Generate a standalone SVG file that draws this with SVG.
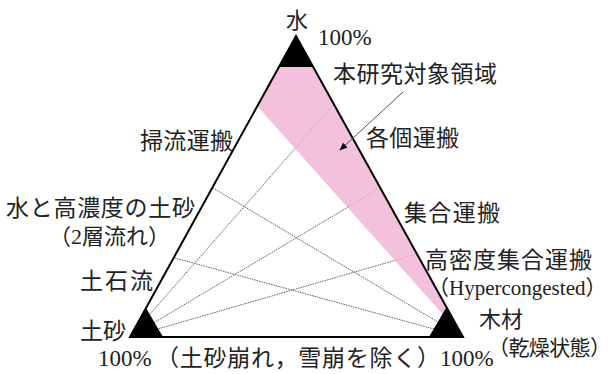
<svg xmlns="http://www.w3.org/2000/svg" width="612" height="374" viewBox="0 0 612 374">
<defs>
<style>
.t{font-family:'Liberation Serif','Noto Sans CJK JP',serif;font-size:23px;fill:#222}
.s{font-size:22px}
.thin{stroke:#666;stroke-width:1;stroke-dasharray:1.6 0.9;fill:none}
.edge{stroke:#000;stroke-width:2;fill:none}
</style>
<marker id="ah" viewBox="0 0 10 10" refX="9" refY="5" markerWidth="8" markerHeight="8" markerUnits="userSpaceOnUse" orient="auto">
<path d="M0,1 L10,5 L0,9 z" fill="#000"/>
</marker>
</defs>
<rect width="612" height="374" fill="#fff"/>
<g id="connectors">
<line class="thin" x1="130" y1="337" x2="334" y2="104"/>
<line class="thin" x1="130" y1="337" x2="380" y2="188"/>
<line class="thin" x1="130" y1="337" x2="417" y2="254"/>
<line class="thin" x1="463" y1="337" x2="213" y2="188"/>
<line class="thin" x1="463" y1="337" x2="175" y2="258"/>
</g>
<g id="region">
<polygon points="279,67 313,67 463,337 258,107" fill="#f2b3d5" fill-opacity="0.82"/>
</g>
<g id="triangle">
<polygon class="edge" points="296,36 463,337 130,337" stroke-linejoin="miter"/>
<polygon points="296,36 313,67 279,67" fill="#000"/>
<polygon points="146,308 163,337 130,337" fill="#000"/>
<polygon points="446,308 463,337 429,337" fill="#000"/>
</g>
<g id="pointer">
<line x1="403" y1="92" x2="340" y2="150" stroke="#555" stroke-width="1" marker-end="url(#ah)"/>
</g>
<g id="labels">
<text class="t s" x="297" y="28" text-anchor="middle">水</text>
<text class="t" x="318" y="45">100%</text>
<text class="t" x="333" y="82" textLength="164" lengthAdjust="spacing">本研究対象領域</text>
<text class="t" x="140" y="149" textLength="93" lengthAdjust="spacing">掃流運搬</text>
<text class="t" x="366" y="146" textLength="93" lengthAdjust="spacing">各個運搬</text>
<text class="t" x="6" y="216" textLength="189" lengthAdjust="spacing">水と高濃度の土砂</text>
<text class="t s" x="49" y="244">（2層流れ）</text>
<text class="t" x="404" y="221" textLength="96" lengthAdjust="spacing">集合運搬</text>
<text class="t" x="80" y="289" textLength="73" lengthAdjust="spacing">土石流</text>
<text class="t" x="425" y="268" textLength="167" lengthAdjust="spacing">高密度集合運搬</text>
<text class="t" x="428" y="295" style="font-size:21px">（Hypercongested）</text>
<text class="t" x="80" y="339">土砂</text>
<text class="t s" x="479" y="327">木材</text>
<text class="t" x="488" y="355" style="font-size:21px" textLength="123" lengthAdjust="spacing">（乾燥状態）</text>
<text class="t" x="98" y="366">100%</text>
<text class="t" x="156" y="366" textLength="284" lengthAdjust="spacing">（土砂崩れ，雪崩を除く）</text>
<text class="t" x="440" y="366">100%</text>
</g>
</svg>
